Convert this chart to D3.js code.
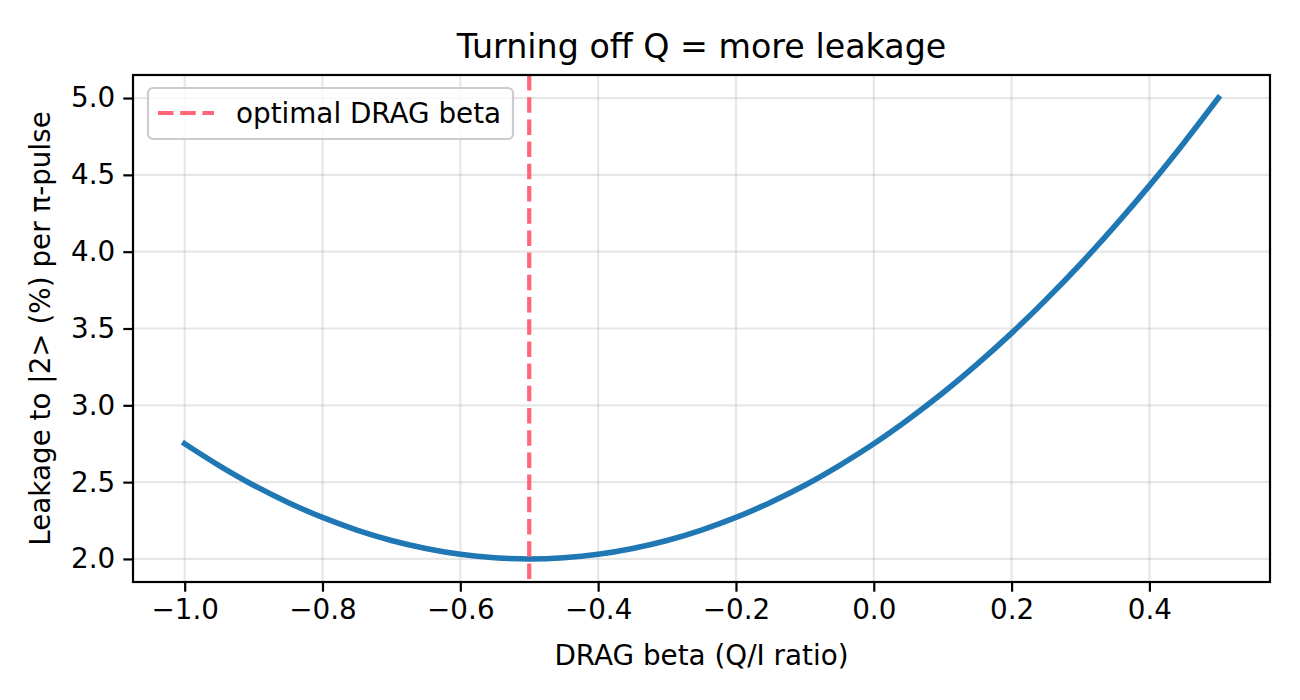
<!DOCTYPE html>
<html>
<head>
<meta charset="utf-8">
<script src="https://cdn.jsdelivr.net/npm/d3@7"></script>
<style>
  body { margin: 0; background: #fff; }
  svg { font-family: "DejaVu Sans", sans-serif; }
</style>
</head>
<body>
<script>
// values
const betas = [-1.0, -0.95, -0.9, -0.85, -0.8, -0.75, -0.7, -0.65, -0.6, -0.55, -0.5,
               -0.45, -0.4, -0.35, -0.3, -0.25, -0.2, -0.15, -0.1, -0.05, 0.0,
               0.05, 0.1, 0.15, 0.2, 0.25, 0.3, 0.35, 0.4, 0.45, 0.5]
const leakage = [2.75, 2.608, 2.48, 2.368, 2.27, 2.188, 2.12, 2.068, 2.03, 2.008, 2.0,
                 2.008, 2.03, 2.068, 2.12, 2.188, 2.27, 2.368, 2.48, 2.608, 2.75,
                 2.908, 3.08, 3.268, 3.47, 3.688, 3.92, 4.168, 4.43, 4.708, 5.0]
const optimalBeta = -0.5
const xTicks = [-1.0, -0.8, -0.6, -0.4, -0.2, 0.0, 0.2, 0.4]
const yTicks = [2.0, 2.5, 3.0, 3.5, 4.0, 4.5, 5.0]

const W = 1300, H = 700
const m = { left: 133, right: 1270, top: 75, bottom: 582 }

const svg = d3.select("body").append("svg").attr("width", W).attr("height", H)

const x = d3.scaleLinear().domain([-1.075, 0.575]).range([m.left, m.right])
const y = d3.scaleLinear().domain([1.85, 5.15]).range([m.bottom, m.top])

const fmt = d => d3.format(".1f")(d).replace("-", "\u2212")

// grid
const grid = svg.append("g").attr("stroke", "#b0b0b0").attr("stroke-opacity", 0.3).attr("stroke-width", 2.2)
grid.selectAll(".gx").data(xTicks).join("line").attr("class", "gx")
    .attr("x1", d => x(d)).attr("x2", d => x(d)).attr("y1", m.top).attr("y2", m.bottom)
grid.selectAll(".gy").data(yTicks).join("line").attr("class", "gy")
    .attr("y1", d => y(d)).attr("y2", d => y(d)).attr("x1", m.left).attr("x2", m.right)

// axes
const xAxis = svg.append("g").attr("transform", `translate(0,${m.bottom})`)
    .call(d3.axisBottom(x).tickValues(xTicks).tickFormat(fmt).tickSize(9.7).tickPadding(8))
const yAxis = svg.append("g").attr("transform", `translate(${m.left},0)`)
    .call(d3.axisLeft(y).tickValues(yTicks).tickFormat(fmt).tickSize(9.7).tickPadding(8))
for (const a of [xAxis, yAxis]) {
    a.select(".domain").remove()
    a.selectAll(".tick line").attr("stroke", "#000").attr("stroke-width", 2.2)
    a.selectAll(".tick text").attr("fill", "#000").style("font-size", "27.8px").style("font-family", "DejaVu Sans")
}

// curve
const line = d3.line().x((d, i) => x(betas[i])).y(d => y(d)).curve(d3.curveCatmullRom)
svg.append("path").datum(leakage)
    .attr("d", line)
    .attr("fill", "none").attr("stroke", "#1f77b4").attr("stroke-width", 5.6)
    .attr("stroke-linecap", "square")

// optimal vertical
svg.append("line")
    .attr("x1", x(optimalBeta)).attr("x2", x(optimalBeta)).attr("y1", m.top).attr("y2", m.bottom)
    .attr("stroke", "#ff6677").attr("stroke-width", 4.2).attr("stroke-dasharray", "15.5,6.7")

// frame
svg.append("rect").attr("x", m.left).attr("y", m.top).attr("width", m.right - m.left).attr("height", m.bottom - m.top)
    .attr("fill", "none").attr("stroke", "#000").attr("stroke-width", 2.2)

// legend
const lg = svg.append("g").attr("transform", "translate(148,88)")
lg.append("rect").attr("width", 365).attr("height", 51).attr("rx", 5)
    .attr("fill", "#fff").attr("fill-opacity", 0.8).attr("stroke", "#ccc").attr("stroke-width", 2.2)
lg.append("line").attr("x1", 10).attr("x2", 66).attr("y1", 25).attr("y2", 25)
    .attr("stroke", "#ff6677").attr("stroke-width", 4.2).attr("stroke-dasharray", "15.5,6.7")
lg.append("text").attr("x", 88).attr("y", 35).text("optimal DRAG beta").style("font-size", "27.8px")

// titles
svg.append("text").attr("x", (m.left + m.right) / 2).attr("y", 58).attr("text-anchor", "middle")
    .style("font-size", "33.3px").text("Turning off Q = more leakage")
svg.append("text").attr("x", (m.left + m.right) / 2).attr("y", 665).attr("text-anchor", "middle")
    .style("font-size", "27.8px").text("DRAG beta (Q/I ratio)")
svg.append("text").attr("transform", `translate(50,${(m.top + m.bottom) / 2}) rotate(-90)`).attr("text-anchor", "middle")
    .style("font-size", "27.8px").text("Leakage to |2> (%) per π-pulse")
</script>
</body>
</html>
